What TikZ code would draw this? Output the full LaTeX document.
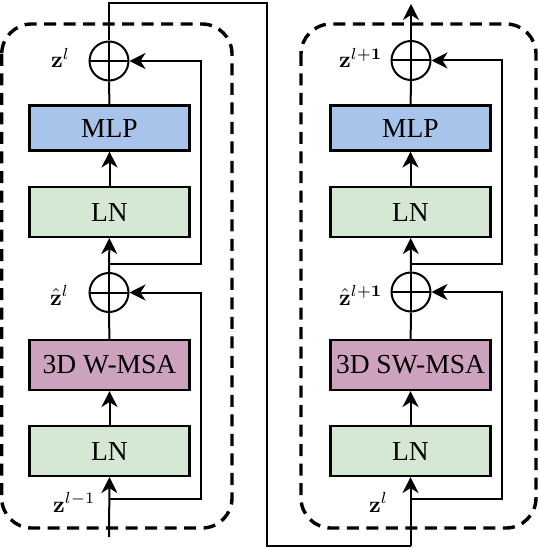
\documentclass[tikz,border=0pt]{standalone}
\usepackage[no-math]{fontspec}
\usepackage{amsmath}
\usepackage{graphicx}
\newfontfamily\tnr{Liberation Serif}
\usetikzlibrary{arrows.meta}
\definecolor{mlpblue}{HTML}{A9C4EB}
\definecolor{lngreen}{HTML}{D5E8D4}
\definecolor{msapurple}{HTML}{CDA2BE}
\newcommand{\lbltext}[1]{\scalebox{2.3}{$#1$}}
\tikzset{
  blk/.style={draw, line width=2.1pt, minimum width=160pt, inner sep=0pt,
    font=\tnr\fontsize{27.5}{30}\selectfont},
  tallblk/.style={blk, minimum height=50pt},
  shortblk/.style={blk, minimum height=45pt},
  addop/.style={circle, draw, line width=2pt, minimum size=39pt, inner sep=0pt,
    path picture={\draw[line width=2pt] (path picture bounding box.north) -- (path picture bounding box.south)
      (path picture bounding box.west) -- (path picture bounding box.east);}},
  conn/.style={line width=2pt},
  arr/.style={conn, -{Stealth[length=16pt,width=16pt,inset=5pt]}},
  dashbox/.style={line width=3.4pt, dash pattern=on 12pt off 7.5pt, rounded corners=30pt},
  lbl/.style={anchor=base west, inner sep=0pt},
}
\begin{document}
\begin{tikzpicture}[x=1pt,y=-1pt]
\useasboundingbox (0,0) rectangle (538,548);
% dashed containers
\draw[dashbox] (1.7,24) rectangle (232,528);
\draw[dashbox] (301,24) rectangle (536,528);

% ---------- left block ----------
\node[tallblk, fill=lngreen] (lnaL) at (109.5,451) {LN};
\node[tallblk, fill=msapurple] (msaL) at (109.5,365) {3D W-MSA};
\node[addop] (addaL) at (109,292.5) {};
\node[tallblk, fill=lngreen] (lnbL) at (109.5,212) {LN};
\node[shortblk, fill=mlpblue] (mlpL) at (109.5,128) {MLP};
\node[addop] (addbL) at (109,61) {};

\coordinate (inL) at (109,537);
\coordinate (braL) at (109,499);
\coordinate (skaL) at (201,499);
\coordinate (brbL) at (109,264);
\coordinate (skbL) at (201,264);
\coordinate (topR) at (267,3);
\coordinate (botL) at (267,546);

\draw[arr] (inL) -- (lnaL.south);
\draw[arr] (lnaL) -- (msaL);
\draw[conn] (msaL) -- (addaL);
\draw[arr] (braL) -- (skaL) |- (addaL.east);
\draw[arr] (addaL) -- (lnbL);
\draw[arr] (brbL) -- (skbL) |- (addbL.east);
\draw[arr] (lnbL) -- (mlpL);
\draw[conn] (mlpL) -- (addbL);

% ---------- right block ----------
\node[tallblk, fill=lngreen] (lnaR) at (410.5,451) {LN};
\node[tallblk, fill=msapurple] (msaR) at (410.5,365) {3D SW-MSA};
\node[addop] (addaR) at (411,292) {};
\node[tallblk, fill=lngreen] (lnbR) at (410.5,212) {LN};
\node[shortblk, fill=mlpblue] (mlpR) at (410.5,128) {MLP};
\node[addop] (addbR) at (411,60.5) {};

\coordinate (braR) at (411,498.5);
\coordinate (skaR) at (502,498.5);
\coordinate (brbR) at (411,263.5);
\coordinate (skbR) at (502,263.5);
\coordinate (outR) at (411,4);

\draw[conn] (addbL.north) |- (topR) -- (botL) -- (botL -| lnaR.south);
\draw[arr] (botL -| lnaR.south) -- (lnaR.south);
\draw[arr] (lnaR) -- (msaR);
\draw[conn] (msaR) -- (addaR);
\draw[arr] (braR) -- (skaR) |- (addaR.east);
\draw[arr] (addaR) -- (lnbR);
\draw[arr] (brbR) -- (skbR) |- (addbR.east);
\draw[arr] (lnbR) -- (mlpR);
\draw[conn] (mlpR) -- (addbR);
\draw[arr] (addbR) -- (outR);

% ---------- labels ----------
\node[lbl] (zl) at (51,68) {\lbltext{\mathbf{z}^{l}}};
\node[lbl] (zhl) at (50,305) {\lbltext{\hat{\mathbf{z}}^{l}}};
\node[lbl] (zlm) at (53,512) {\lbltext{\mathbf{z}^{l-1}}};
\node[lbl] (zlp) at (339,68) {\lbltext{\mathbf{z}^{l\mathbf{+1}}}};
\node[lbl] (zhlp) at (339,305) {\lbltext{\hat{\mathbf{z}}^{l\mathbf{+1}}}};
\node[lbl] (zlr) at (369,512) {\lbltext{\mathbf{z}^{l}}};
\end{tikzpicture}
\end{document}
